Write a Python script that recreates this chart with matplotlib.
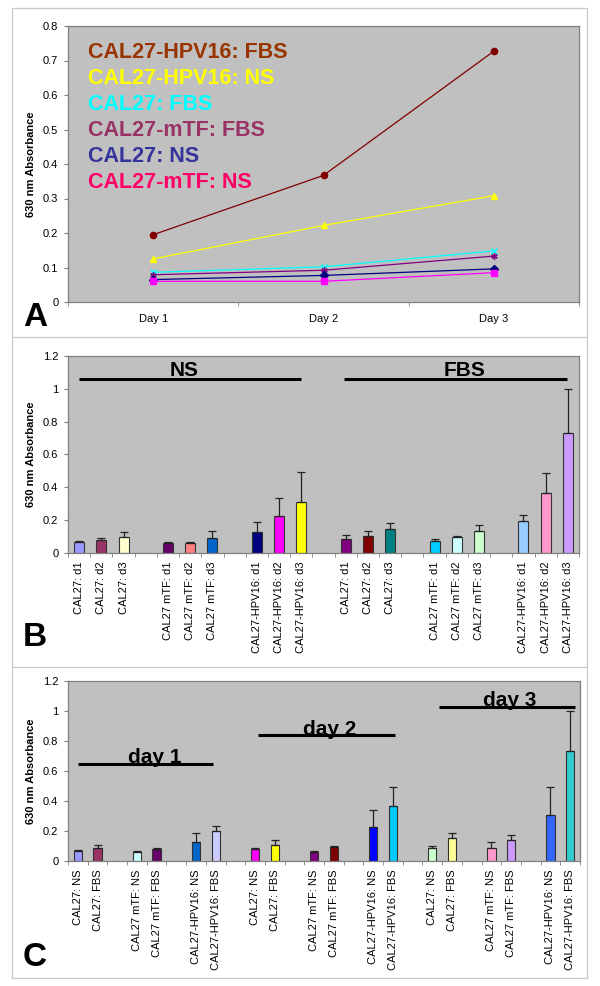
import matplotlib
matplotlib.use('Agg')
import matplotlib.pyplot as plt
from matplotlib.lines import Line2D
import numpy as np

plt.rcParams['font.family'] = ['Liberation Sans', 'DejaVu Sans']

# ---------------- Panel A data ----------------
a_days = ['Day 1', 'Day 2', 'Day 3']
a_names = ['CAL27-HPV16: FBS', 'CAL27-HPV16: NS', 'CAL27: FBS',
           'CAL27-mTF: FBS', 'CAL27: NS', 'CAL27-mTF: NS']
a_hpv16_fbs = [0.195, 0.367, 0.727]
a_hpv16_ns = [0.125, 0.222, 0.308]
a_cal27_fbs = [0.086, 0.102, 0.148]
a_mtf_fbs = [0.079, 0.092, 0.133]
a_cal27_ns = [0.065, 0.077, 0.096]
a_mtf_ns = [0.060, 0.060, 0.085]
a_line_colors = ['#800000', '#FFFF00', '#00FFFF', '#800080', '#000080', '#FF00FF']
a_text_colors = ['#993300', '#FFFF00', '#00FFFF', '#993366', '#333399', '#FF0066']
a_markers = ['o', '^', 'x', (6, 2, 0), 'D', 's']
a_yticks = [0, 0.1, 0.2, 0.3, 0.4, 0.5, 0.6, 0.7, 0.8]
a_yticklabels = ['0', '0.1', '0.2', '0.3', '0.4', '0.5', '0.6', '0.7', '0.8']

# ---------------- Panel B data ----------------
b_labels = ['CAL27: d1', 'CAL27: d2', 'CAL27: d3', '',
            'CAL27 mTF: d1', 'CAL27 mTF: d2', 'CAL27 mTF: d3', '',
            'CAL27-HPV16: d1', 'CAL27-HPV16: d2', 'CAL27-HPV16: d3', '',
            'CAL27: d1', 'CAL27: d2', 'CAL27: d3', '',
            'CAL27 mTF: d1', 'CAL27 mTF: d2', 'CAL27 mTF: d3', '',
            'CAL27-HPV16: d1', 'CAL27-HPV16: d2', 'CAL27-HPV16: d3']
b_values = [0.065, 0.077, 0.100, None,
            0.062, 0.062, 0.089, None,
            0.126, 0.223, 0.312, None,
            0.088, 0.103, 0.148, None,
            0.076, 0.095, 0.137, None,
            0.196, 0.365, 0.728]
b_errors = [0.007, 0.012, 0.025, None,
            0.004, 0.002, 0.042, None,
            0.060, 0.115, 0.183, None,
            0.024, 0.034, 0.032, None,
            0.011, 0.009, 0.033, None,
            0.037, 0.125, 0.269]
b_colors = ['#9999FF', '#993366', '#FFFFCC', None,
            '#660066', '#FF8080', '#0066CC', None,
            '#000080', '#FF00FF', '#FFFF00', None,
            '#800080', '#800000', '#008080', None,
            '#00CCFF', '#CCFFFF', '#CCFFCC', None,
            '#99CCFF', '#FF99CC', '#CC99FF']
b_groups = ['NS', 'FBS']

# ---------------- Panel C data ----------------
c_labels = ['CAL27: NS', 'CAL27: FBS', '',
            'CAL27 mTF: NS', 'CAL27 mTF: FBS', '',
            'CAL27-HPV16: NS', 'CAL27-HPV16: FBS', '',
            'CAL27: NS', 'CAL27: FBS', '',
            'CAL27 mTF: NS', 'CAL27 mTF: FBS', '',
            'CAL27-HPV16: NS', 'CAL27-HPV16: FBS', '',
            'CAL27: NS', 'CAL27: FBS', '',
            'CAL27 mTF: NS', 'CAL27 mTF: FBS', '',
            'CAL27-HPV16: NS', 'CAL27-HPV16: FBS']
c_values = [0.068, 0.086, None, 0.062, 0.080, None, 0.126, 0.197, None,
            0.080, 0.104, None, 0.060, 0.093, None, 0.227, 0.369, None,
            0.086, 0.152, None, 0.086, 0.139, None, 0.310, 0.731]
c_errors = [0.003, 0.022, None, 0.004, 0.010, None, 0.058, 0.037, None,
            0.010, 0.035, None, 0.004, 0.009, None, 0.113, 0.124, None,
            0.011, 0.032, None, 0.044, 0.033, None, 0.183, 0.272]
c_colors = ['#9999FF', '#993366', None, '#CCFFFF', '#660066', None, '#0066CC', '#CCCCFF', None,
            '#FF00FF', '#FFFF00', None, '#800080', '#800000', None, '#0000FF', '#00CCFF', None,
            '#CCFFCC', '#FFFF99', None, '#FF99CC', '#CC99FF', None, '#3366FF', '#33CCCC']
c_groups = ['day 1', 'day 2', 'day 3']

bar_yticks = [0, 0.2, 0.4, 0.6, 0.8, 1.0, 1.2]
bar_yticklabels = ['0', '0.2', '0.4', '0.6', '0.8', '1', '1.2']
ylabel = '630 nm Absorbance'

# ---------------- Figure ----------------
W, H = 600, 986
fig = plt.figure(figsize=(W / 100, H / 100), dpi=100)


def box(l, r, t, b):
    return [l / W, 1 - b / H, (r - l) / W, (b - t) / H]


PLOT_BG = '#C0C0C0'
SPINE = '#808080'


def style_axes(ax, n_cat):
    ax.set_facecolor(PLOT_BG)
    for s in ax.spines.values():
        s.set_color(SPINE)
        s.set_linewidth(0.9)
    ax.set_xlim(-0.5, n_cat - 0.5)
    ax.set_xticks(np.arange(n_cat))
    ax.set_xticks(np.arange(n_cat + 1) - 0.5, minor=True)
    ax.tick_params(axis='x', which='major', length=0, labelsize=8)
    ax.tick_params(axis='x', which='minor', length=3, direction='out', color=SPINE)
    ax.tick_params(axis='y', which='major', length=3, direction='out', color=SPINE,
                   labelsize=8, pad=4)
    ax.text(-0.0724, 0.5, ylabel, transform=ax.transAxes, rotation=90,
            ha='center', va='center', fontsize=8, fontweight='bold')


# ---- Panel A ----
axA = fig.add_axes(box(68, 579, 26, 302))
style_axes(axA, len(a_days))
a_series = [a_hpv16_fbs, a_hpv16_ns, a_cal27_fbs, a_mtf_fbs, a_cal27_ns, a_mtf_ns]
xa = np.arange(len(a_days))
for vals, col, mk in zip(a_series, a_line_colors, a_markers):
    axA.plot(xa, vals, color=col, lw=0.9, marker=mk, markersize=4.5,
             markerfacecolor=col, markeredgecolor=col, markeredgewidth=1.0)
axA.set_ylim(0, 0.8)
axA.set_yticks(a_yticks)
axA.set_yticklabels(a_yticklabels)
axA.set_xticklabels(a_days)
axA.tick_params(axis='x', which='major', pad=9)
for i, (name, tc) in enumerate(zip(a_names, a_text_colors)):
    ypx = 53 + 26 * i
    axA.text((88 - 68) / 511, (302 - ypx) / 276, name, transform=axA.transAxes,
             color=tc, fontsize=15.5, fontweight='bold', ha='left', va='center')


def draw_bars(ax, labels, values, errors, colors, width):
    pos = [i for i, v in enumerate(values) if v is not None]
    vals = [values[i] for i in pos]
    errs = [errors[i] for i in pos]
    cols = [colors[i] for i in pos]
    ax.bar(pos, vals, width=width, color=cols, edgecolor='#333333', linewidth=0.8, zorder=2)
    ax.errorbar(pos, vals, yerr=[np.zeros(len(errs)), errs], fmt='none',
                ecolor='#222222', elinewidth=0.9, capsize=3.2, capthick=0.9, zorder=3)
    ax.set_xticklabels(labels, rotation=90, va='top', ha='center')
    ax.tick_params(axis='x', which='major', pad=6)


# ---- Panel B ----
axB = fig.add_axes(box(68, 579, 356, 553))
style_axes(axB, len(b_labels))
draw_bars(axB, b_labels, b_values, b_errors, b_colors, 0.45)
axB.set_ylim(0, 1.2)
axB.set_yticks(bar_yticks)
axB.set_yticklabels(bar_yticklabels)
for (x0, x1, xt), g in zip([(0.0, 10.0, 4.72), (11.92, 21.96, 17.37)], b_groups):
    axB.plot([x0, x1], [1.062, 1.062], color='black', lw=2.2, solid_capstyle='butt', zorder=4)
    axB.text(xt, 1.078, g, ha='center', va='baseline', fontsize=15,
             fontweight='bold', zorder=5)

# ---- Panel C ----
axC = fig.add_axes(box(68, 580, 681, 861))
style_axes(axC, len(c_labels))
draw_bars(axC, c_labels, c_values, c_errors, c_colors, 0.42)
axC.set_ylim(0, 1.2)
axC.set_yticks(bar_yticks)
axC.set_yticklabels(bar_yticklabels)
for (x0, x1, xt, yl), g in zip([(0.01, 6.88, 3.88, 0.65),
                                (9.17, 16.09, 12.78, 0.837),
                                (18.33, 25.25, 21.94, 1.028)], c_groups):
    axC.plot([x0, x1], [yl, yl], color='black', lw=2.2, solid_capstyle='butt', zorder=4)
    axC.text(xt, yl + 0.004, g, ha='center', va='baseline', fontsize=15,
             fontweight='bold', zorder=5)

# ---- Panel letters ----
for letter, ypx in zip(['A', 'B', 'C'], [318, 638, 958]):
    fig.text(35 / W, 1 - ypx / H, letter, fontsize=24, fontweight='bold',
             ha='center', va='center')

# ---- Panel borders ----
BORDER = '#C8C8C8'
xl, xr = 11.5 / W, 587 / W
for ypx in [8, 337, 667, 978]:
    fig.add_artist(Line2D([xl, xr], [1 - ypx / H, 1 - ypx / H], transform=fig.transFigure,
                          color=BORDER, lw=0.9))
for xp in [xl, xr]:
    fig.add_artist(Line2D([xp, xp], [1 - 8 / H, 1 - 978 / H], transform=fig.transFigure,
                          color=BORDER, lw=0.9))

fig.savefig('out.png', dpi=100)
